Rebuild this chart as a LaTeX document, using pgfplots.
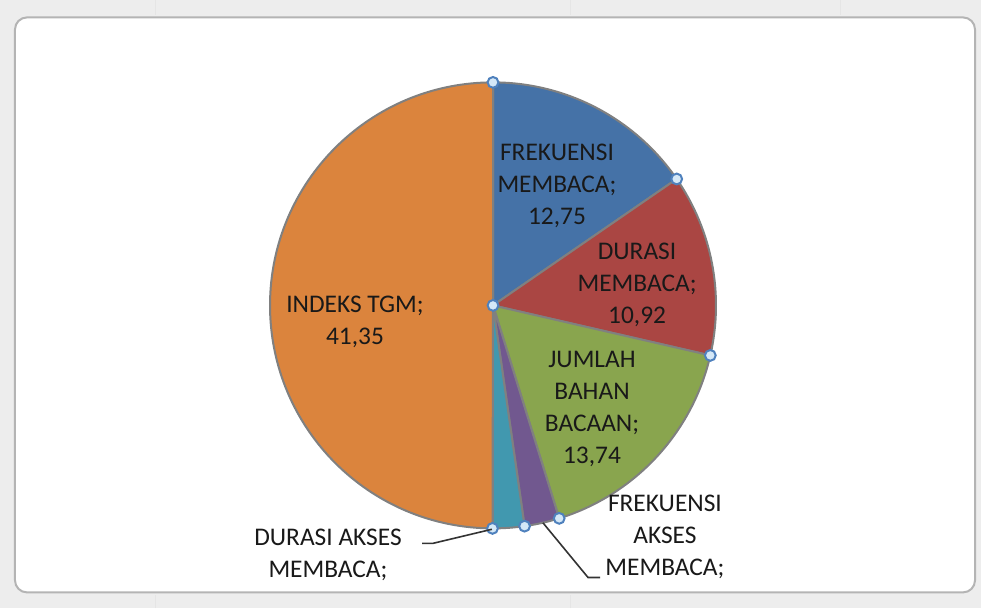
\documentclass[border=0pt]{standalone}
\usepackage{pgfplots}
\usepackage{pgfplotstable}
\pgfplotsset{compat=1.18}
\usepackage{fontspec}
\setmainfont{Carlito}

\definecolor{slice0}{HTML}{4572A7}
\definecolor{slice1}{HTML}{AA4643}
\definecolor{slice2}{HTML}{89A54E}
\definecolor{slice3}{HTML}{71588F}
\definecolor{slice4}{HTML}{4198AF}
\definecolor{slice5}{HTML}{DB843D}
\definecolor{edgegray}{HTML}{808080}
\definecolor{handlefill}{HTML}{D5E8F7}
\definecolor{handleborder}{HTML}{4F81BD}
\definecolor{chrome}{HTML}{EDEDED}
\definecolor{framegray}{HTML}{B4B4B4}

% value of each slice, clockwise from 12 o'clock
\pgfplotstableread{
name value
FrekuensiMembaca 12.75
DurasiMembaca 10.92
JumlahBahanBacaan 13.74
FrekuensiAksesMembaca 2.10
DurasiAksesMembaca 1.90
IndeksTGM 41.35
}\piedata

\begin{document}
\begin{tikzpicture}
\begin{axis}[
  x=111.5pt, y=111.5pt,
  xmin=-2.21076, xmax=2.18834,
  ymin=-1.35874, ymax=1.36771,
  hide axis, clip=false,
]
% window chrome
\fill[chrome] (axis cs:-2.21076,-1.35874) rectangle (axis cs:2.18834,1.36771);
\draw[white!90!black, line width=0.4pt] (axis cs:-1.516,1.36771) -- (axis cs:-1.516,1.30);
\draw[white!90!black, line width=0.4pt] (axis cs:0.345,1.36771) -- (axis cs:0.345,1.30);
\draw[white!90!black, line width=0.4pt] (axis cs:1.556,1.36771) -- (axis cs:1.556,1.30);
\draw[white!90!black, line width=0.4pt] (axis cs:-1.516,-1.35874) -- (axis cs:-1.516,-1.30);
\draw[white!90!black, line width=0.4pt] (axis cs:0.345,-1.35874) -- (axis cs:0.345,-1.30);
\fill[white, draw=framegray, line width=1pt, rounded corners=6pt]
  (axis cs:-2.1435,-1.287) rectangle (axis cs:2.1614,1.2915);

% total
\def\total{0}
\pgfplotsforeachungrouped \i in {0,...,5}{%
  \pgfplotstablegetelem{\i}{value}\of\piedata
  \pgfmathsetmacro\total{\total+\pgfplotsretval}%
}
\def\R{111.5pt}
\def\cum{0}
\pgfplotsforeachungrouped \i in {0,...,5}{%
  \pgfplotstablegetelem{\i}{value}\of\piedata
  \pgfmathsetmacro\a{90-(\cum/\total)*360}%
  \pgfmathsetmacro\cum{\cum+\pgfplotsretval}%
  \pgfmathsetmacro\b{90-(\cum/\total)*360}%
  \edef\temp{\noexpand\fill[fill=slice\i, draw=edgegray, line width=1pt, line join=round]
    (axis cs:0,0) -- (axis cs:{cos(\a)},{sin(\a)}) arc[start angle=\a, end angle=\b, radius=\R] -- cycle;}%
  \temp
}
% selection handles at slice boundaries
\def\cum{0}
\pgfplotsforeachungrouped \i in {0,...,5}{%
  \pgfplotstablegetelem{\i}{value}\of\piedata
  \pgfmathsetmacro\a{90-(\cum/\total)*360}%
  \pgfmathsetmacro\cum{\cum+\pgfplotsretval}%
  \edef\temp{\noexpand\draw[fill=handlefill, draw=handleborder, line width=1pt]
    (axis cs:{cos(\a)},{sin(\a)}) circle[radius=2.7pt];}%
  \temp
}
\draw[fill=handlefill, draw=handleborder, line width=1pt] (axis cs:0,0) circle[radius=2.7pt];

% leader lines
\draw[black!80, line width=0.8pt] (axis cs:-0.318,-1.067) -- (axis cs:-0.269,-1.067) -- (axis cs:-0.005,-1.004);
\draw[black!80, line width=0.8pt] (axis cs:0.224,-0.975) -- (axis cs:0.426,-1.220) -- (axis cs:0.480,-1.220);

% labels
\tikzset{lbl/.style={align=center, text=black!90, font=\fontsize{12.7}{16}\selectfont, inner sep=0pt}}
\node[lbl] at (axis cs:0.287,0.534) {FREKUENSI\\MEMBACA;\\12,75};
\node[lbl] at (axis cs:0.646,0.090) {DURASI\\MEMBACA;\\10,92};
\node[lbl] at (axis cs:0.444,-0.466) {JUMLAH\\BAHAN\\BACAAN;\\13,74};
\node[lbl] at (axis cs:-0.619,-0.076) {INDEKS TGM;\\41,35};
\node[lbl] at (axis cs:-0.740,-1.117) {DURASI AKSES\\MEMBACA;};
\node[lbl] at (axis cs:0.771,-1.040) {FREKUENSI\\AKSES\\MEMBACA;};
\end{axis}
\end{tikzpicture}
\end{document}
